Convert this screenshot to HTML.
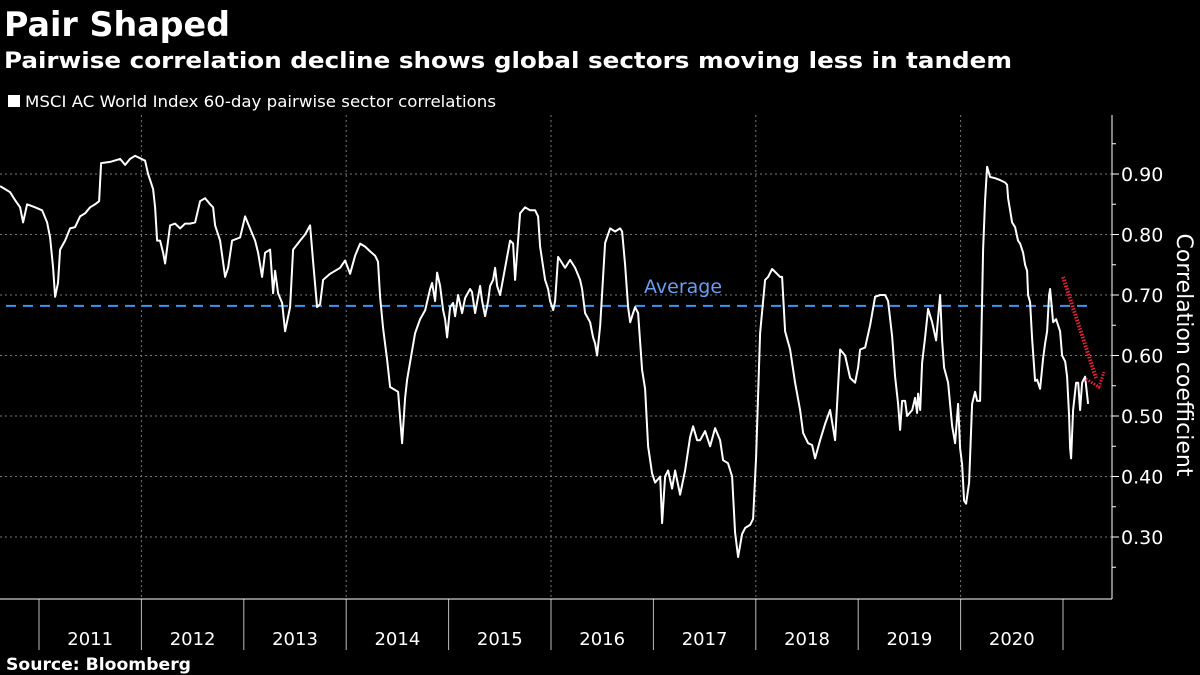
<!DOCTYPE html>
<html><head><meta charset="utf-8"><style>
html,body{margin:0;padding:0;background:#000;}
svg{display:block}
text{font-family:"DejaVu Sans","Liberation Sans",sans-serif;fill:#fff}
</style></head><body>
<svg id="chart" width="1200" height="675" viewBox="0 0 1200 675">
<text x="4" y="36" font-size="34" font-weight="bold" textLength="226" lengthAdjust="spacingAndGlyphs">Pair Shaped</text>
<text x="4" y="68" font-size="22" font-weight="bold" textLength="1008" lengthAdjust="spacingAndGlyphs">Pairwise correlation decline shows global sectors moving less in tandem</text>
<rect x="8" y="95" width="12" height="12" fill="#fff"/>
<text x="25" y="107" font-size="16" textLength="471" lengthAdjust="spacingAndGlyphs">MSCI AC World Index 60-day pairwise sector correlations</text>
<g id="grid"></g>
<g id="axes"></g>
<g id="series"></g>
<text x="6" y="670" font-size="17" font-weight="bold" textLength="185" lengthAdjust="spacingAndGlyphs">Source: Bloomberg</text>
</svg>
<script>
const dates=[2010.620,2010.669,2010.718,2010.766,2010.815,2010.845,2010.884,2010.962,2011.030,2011.079,2011.108,2011.138,2011.157,2011.186,2011.206,2011.255,2011.304,2011.352,2011.401,2011.450,2011.499,2011.548,2011.587,2011.606,2011.694,2011.792,2011.841,2011.890,2011.938,2012.036,2012.065,2012.114,2012.134,2012.153,2012.183,2012.212,2012.231,2012.280,2012.329,2012.378,2012.427,2012.476,2012.524,2012.573,2012.622,2012.671,2012.700,2012.720,2012.769,2012.817,2012.847,2012.886,2012.964,2013.013,2013.061,2013.110,2013.140,2013.179,2013.208,2013.257,2013.286,2013.306,2013.335,2013.374,2013.403,2013.452,2013.481,2013.550,2013.599,2013.647,2013.677,2013.716,2013.745,2013.774,2013.843,2013.892,2013.940,2013.989,2014.038,2014.087,2014.136,2014.185,2014.233,2014.282,2014.311,2014.331,2014.360,2014.399,2014.429,2014.507,2014.546,2014.575,2014.595,2014.673,2014.722,2014.771,2014.819,2014.839,2014.868,2014.888,2014.917,2014.946,2014.966,2014.985,2015.015,2015.044,2015.063,2015.093,2015.132,2015.161,2015.210,2015.229,2015.259,2015.308,2015.327,2015.356,2015.386,2015.405,2015.435,2015.454,2015.474,2015.503,2015.552,2015.601,2015.630,2015.649,2015.698,2015.747,2015.796,2015.845,2015.874,2015.894,2015.942,2015.972,2015.991,2016.021,2016.040,2016.069,2016.089,2016.138,2016.187,2016.235,2016.284,2016.304,2016.333,2016.382,2016.411,2016.431,2016.450,2016.480,2016.528,2016.577,2016.626,2016.675,2016.694,2016.724,2016.753,2016.773,2016.802,2016.821,2016.851,2016.890,2016.919,2016.948,2016.987,2017.017,2017.066,2017.085,2017.114,2017.144,2017.183,2017.212,2017.261,2017.310,2017.358,2017.388,2017.427,2017.456,2017.505,2017.554,2017.603,2017.651,2017.681,2017.729,2017.769,2017.798,2017.827,2017.866,2017.896,2017.944,2017.974,2018.003,2018.042,2018.071,2018.091,2018.120,2018.159,2018.189,2018.237,2018.257,2018.286,2018.335,2018.384,2018.433,2018.462,2018.511,2018.550,2018.579,2018.628,2018.677,2018.726,2018.774,2018.823,2018.872,2018.921,2018.970,2018.999,2019.019,2019.067,2019.116,2019.165,2019.214,2019.263,2019.292,2019.331,2019.360,2019.390,2019.409,2019.429,2019.458,2019.478,2019.527,2019.556,2019.575,2019.585,2019.605,2019.624,2019.653,2019.683,2019.722,2019.761,2019.800,2019.819,2019.839,2019.878,2019.917,2019.946,2019.976,2019.995,2020.015,2020.034,2020.054,2020.083,2020.112,2020.142,2020.161,2020.190,2020.220,2020.239,2020.259,2020.288,2020.337,2020.386,2020.435,2020.454,2020.464,2020.503,2020.532,2020.561,2020.581,2020.610,2020.630,2020.649,2020.659,2020.679,2020.698,2020.728,2020.747,2020.776,2020.806,2020.825,2020.845,2020.864,2020.874,2020.903,2020.933,2020.972,2020.991,2021.021,2021.040,2021.060,2021.069,2021.079,2021.099,2021.128,2021.148,2021.167,2021.187,2021.216,2021.245];
const values=[0.88,0.875,0.87,0.857,0.845,0.82,0.85,0.845,0.84,0.82,0.795,0.745,0.697,0.72,0.775,0.79,0.81,0.812,0.83,0.835,0.845,0.85,0.855,0.918,0.92,0.925,0.915,0.925,0.93,0.922,0.9,0.875,0.845,0.79,0.79,0.77,0.752,0.815,0.818,0.81,0.818,0.818,0.82,0.855,0.86,0.85,0.845,0.815,0.79,0.73,0.745,0.79,0.795,0.83,0.81,0.79,0.77,0.73,0.77,0.775,0.703,0.74,0.703,0.687,0.64,0.68,0.775,0.79,0.8,0.815,0.755,0.68,0.685,0.725,0.735,0.74,0.745,0.757,0.735,0.765,0.785,0.78,0.772,0.765,0.755,0.697,0.645,0.593,0.548,0.54,0.455,0.53,0.56,0.637,0.66,0.675,0.71,0.72,0.69,0.737,0.715,0.675,0.66,0.63,0.68,0.687,0.665,0.7,0.67,0.695,0.71,0.705,0.67,0.715,0.69,0.665,0.69,0.715,0.725,0.745,0.715,0.70,0.745,0.79,0.785,0.725,0.835,0.845,0.84,0.84,0.83,0.78,0.725,0.71,0.69,0.675,0.69,0.763,0.758,0.745,0.758,0.745,0.725,0.71,0.67,0.655,0.63,0.62,0.60,0.65,0.786,0.81,0.805,0.81,0.805,0.75,0.68,0.655,0.67,0.68,0.67,0.576,0.545,0.45,0.405,0.39,0.40,0.323,0.40,0.41,0.38,0.41,0.37,0.41,0.465,0.483,0.46,0.46,0.475,0.45,0.48,0.46,0.427,0.422,0.40,0.307,0.267,0.305,0.315,0.32,0.33,0.432,0.637,0.69,0.725,0.73,0.743,0.738,0.73,0.73,0.64,0.61,0.555,0.51,0.472,0.455,0.452,0.43,0.46,0.487,0.51,0.46,0.61,0.60,0.563,0.555,0.58,0.61,0.613,0.65,0.697,0.70,0.70,0.69,0.632,0.565,0.52,0.477,0.525,0.525,0.50,0.51,0.53,0.505,0.537,0.51,0.588,0.63,0.677,0.655,0.625,0.70,0.625,0.58,0.555,0.484,0.455,0.52,0.447,0.42,0.36,0.355,0.39,0.52,0.54,0.525,0.525,0.775,0.857,0.912,0.895,0.893,0.89,0.886,0.882,0.86,0.82,0.812,0.79,0.785,0.77,0.75,0.74,0.70,0.688,0.628,0.558,0.56,0.545,0.595,0.62,0.64,0.70,0.71,0.655,0.66,0.64,0.60,0.59,0.565,0.50,0.447,0.43,0.51,0.555,0.555,0.51,0.555,0.565,0.52,0.53];
const yTicks=[0.30,0.40,0.50,0.60,0.70,0.80,0.90];
const yTickLabels=["0.30","0.40","0.50","0.60","0.70","0.80","0.90"];
const years=[2011,2012,2013,2014,2015,2016,2017,2018,2019,2020];
const average=0.682;

const NS="http://www.w3.org/2000/svg";
const X0=39, PXY=102.4;
function xs(t){return X0+(t-2011)*PXY;}
function ys(v){return 174+(0.9-v)*605;}
const AX=1112, TOP=115, BOT=599;
function mk(tag,attrs,parent){const e=document.createElementNS(NS,tag);for(const k in attrs)e.setAttribute(k,attrs[k]);parent.appendChild(e);return e;}
const grid=document.getElementById('grid'),axes=document.getElementById('axes'),series=document.getElementById('series');

yTicks.forEach((v,i)=>{
  const g=mk('line',{x1:0,x2:AX,y1:ys(v),y2:ys(v),stroke:'#777','stroke-width':1,'stroke-dasharray':'2,3'},grid);
  
  
  const t=mk('line',{x1:AX,x2:AX+7,y1:ys(v),y2:ys(v),stroke:'#fff','stroke-width':1},axes);
  
  
  const l=mk('text',{x:AX+9,y:ys(v)+7,'font-size':19},axes);
  l.textContent=yTickLabels[i];
  
  
});
[0.25,0.35,0.45,0.55,0.65,0.75,0.85,0.95].forEach(v=>{
  const t=mk('line',{x1:AX,x2:AX+4,y1:ys(v),y2:ys(v),stroke:'#fff','stroke-width':1},axes);
  
  
});
for(let yr=2012;yr<=2020;yr+=2){
  const g=mk('line',{x1:xs(yr),x2:xs(yr),y1:TOP,y2:BOT,stroke:'#777','stroke-width':1,'stroke-dasharray':'2,3'},grid);
  
  
}
years.concat([2021]).forEach(yr=>{
  const s=mk('line',{x1:xs(yr),x2:xs(yr),y1:BOT,y2:650,stroke:'#bbb','stroke-width':1},axes);
  
  
});
years.forEach(yr=>{
  const l=mk('text',{x:xs(yr+0.5),y:645,'font-size':18,'text-anchor':'middle'},axes);
  l.textContent=String(yr);
  
  
});
const xa=mk('line',{x1:0,x2:AX,y1:BOT,y2:BOT,stroke:'#fff','stroke-width':1},axes);


const ya=mk('line',{x1:AX,x2:AX,y1:TOP,y2:BOT,stroke:'#fff','stroke-width':1},axes);


const yt=mk('text',{x:0,y:0,'font-size':22,'text-anchor':'middle',transform:'translate(1177,355) rotate(90)'},axes);
yt.textContent='Correlation coefficient';



const avg=mk('line',{x1:6,x2:1088,y1:ys(average),y2:ys(average),stroke:'#3d95f0','stroke-width':2,'stroke-dasharray':'10,7'},series);


const at=mk('text',{x:644,y:ys(average)-13,'font-size':19,fill:'#6a9ef0',style:'fill:#6a9ef0'},series);
at.textContent='Average';



const d=dates.map((t,i)=>(i?'L':'M')+xs(t).toFixed(1)+','+ys(values[i]).toFixed(1)).join('');
const p=mk('path',{d:d,fill:'none',stroke:'#fff','stroke-width':2,'stroke-linejoin':'round'},series);



const ar=mk('line',{x1:1063,y1:277,x2:1096,y2:378,stroke:'#e8203c','stroke-width':4,'stroke-dasharray':'1.5,1.5'},series);


const ah=mk('path',{d:'M1086,379 L1099,387 L1104,372',fill:'none',stroke:'#e8203c','stroke-width':3,'stroke-dasharray':'1.5,1.5'},series);


</script>
</body></html>
